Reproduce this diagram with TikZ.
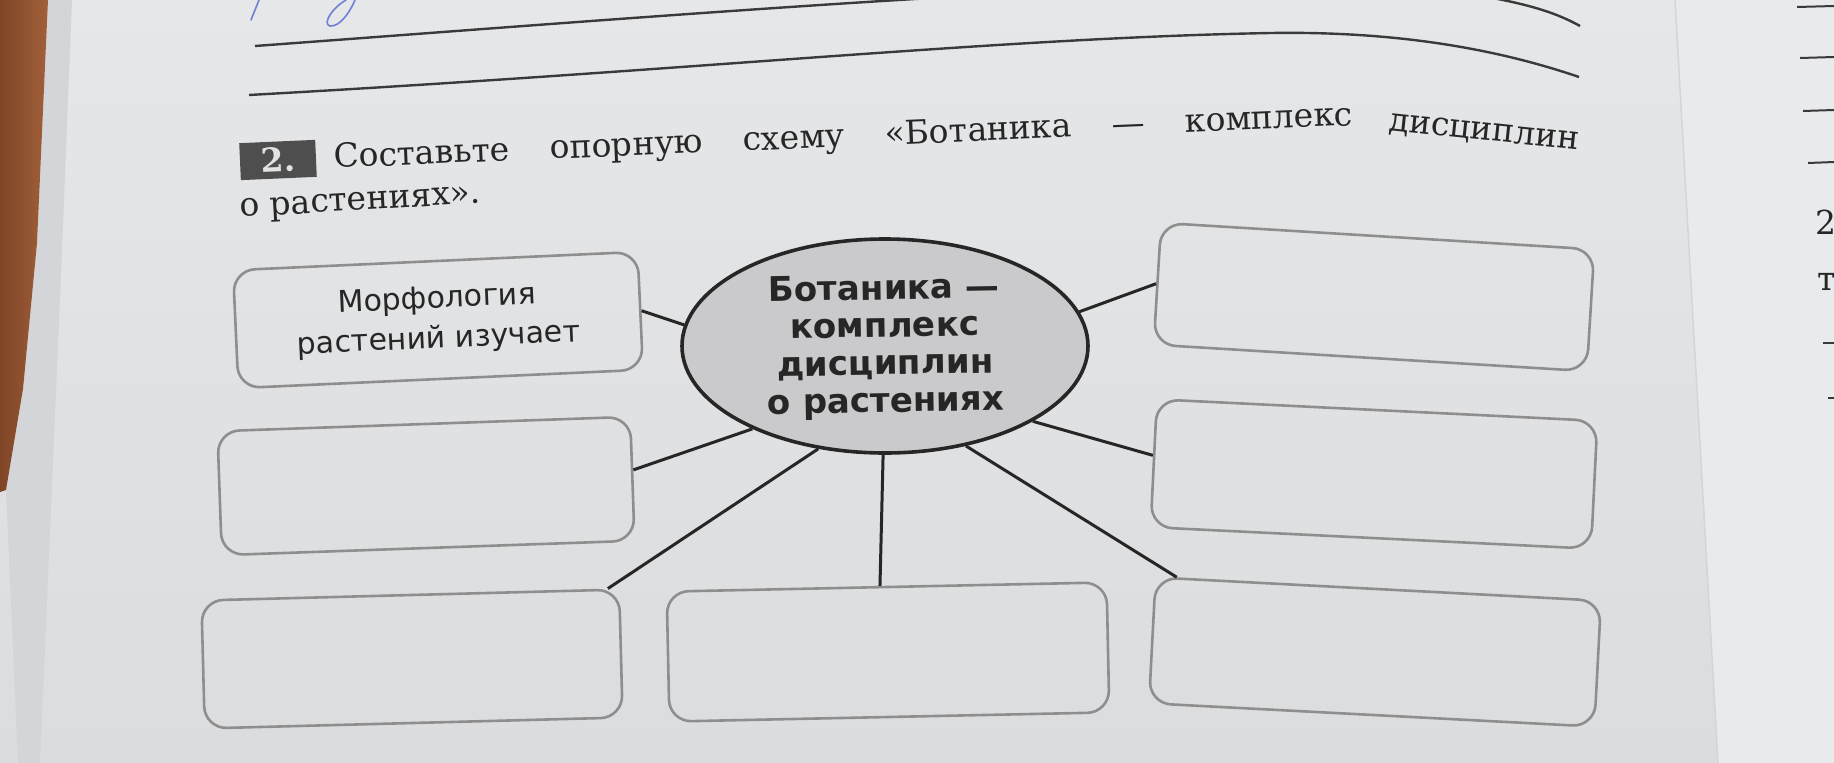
\documentclass[tikz,border=0pt]{standalone}
\usepackage{fontspec}
\setmainfont{DejaVu Serif}
\newfontfamily\serifw{DejaVu Serif}
\newfontfamily\sansw{DejaVu Sans}
\usetikzlibrary{shapes.geometric,calc}
\definecolor{pagetop}{HTML}{E6E7E9}
\definecolor{pagebot}{HTML}{DBDCDE}
\definecolor{pageright}{HTML}{E9EAEC}
\definecolor{tablec}{HTML}{A2603A}
\definecolor{tabled}{HTML}{7E4526}
\definecolor{edgec}{HTML}{D3D5D8}
\definecolor{inkc}{HTML}{262626}
\definecolor{rulec}{HTML}{3A3A3A}
\definecolor{boxc}{HTML}{8E8E8E}
\definecolor{ellfill}{HTML}{CACACC}
\definecolor{badgec}{HTML}{4E4E4E}
\definecolor{badgetx}{HTML}{E2E2E2}
\definecolor{penc}{HTML}{6F80D6}
\newcommand\hdfont{\serifw\fontsize{33}{38}\selectfont}
\newcommand\bxfont{\sansw\fontsize{30}{40}\selectfont}
\newcommand\elfont{\sansw\bfseries\fontsize{34}{37.5}\selectfont}
\newcommand\bdfont{\serifw\bfseries\fontsize{33}{36}\selectfont}
\begin{document}
\begin{tikzpicture}[x=1pt,y=-1pt,
  bx/.style={draw=boxc, line width=2.6pt, rounded corners=22pt, inner sep=0pt, font=\bxfont, align=center, text=inkc},
  conn/.style={draw=inkc, line width=3pt},
  rule/.style={draw=rulec, line width=2.4pt},
  head/.style={anchor=base west, font=\hdfont, text=inkc, inner sep=0pt}]
\useasboundingbox (0,0) rectangle (1834,763);
\clip (0,0) rectangle (1834,763);
% page and surroundings
\shade[top color=pagetop, bottom color=pagebot] (0,0) rectangle (1834,763);
\fill[pageright] (1675,0) -- (1834,0) -- (1834,763) -- (1718,763) -- cycle;
\draw[edgec, line width=1.5pt] (1675,0) -- (1718,763);
\fill[edgec] (48,0) -- (72,0) -- (60,300) -- (40,763) -- (18,763) -- (6,490) -- (23,389) -- (37,243) -- cycle;
\shade[left color=tabled, right color=tablec] (0,0) -- (48,0) -- (37,243) -- (23,389) -- (6,490) -- (0,492) -- cycle;
% handwriting
\draw[penc, line width=1.6pt, line cap=round] (251,20) -- (259,0);
\draw[penc, line width=1.6pt, line cap=round] (346,0) .. controls (332,8) and (322,24) .. (330,26) .. controls (340,27) and (350,12) .. (355,0);
% writing lines
\draw[rule] (255,46) .. controls (500,28) and (750,8) .. (1000,-6);
\draw[rule] (1470,-6) .. controls (1525,3) and (1555,12) .. (1580,26);
\draw[rule] (249,95) .. controls (700,70) and (1000,38) .. (1271,33) .. controls (1400,31) and (1500,50) .. (1579,77);
% next page fragments
\draw[rule, line width=2pt] (1797,7) -- (1834,6);
\draw[rule, line width=2pt] (1800,58) -- (1834,57);
\draw[rule, line width=2pt] (1803,111) -- (1834,110);
\draw[rule, line width=2pt] (1808,163) -- (1834,162);
\draw[rule, line width=2pt] (1823,343) -- (1834,343);
\draw[rule, line width=2pt] (1828,398) -- (1834,398);
\node[head] (p2) at (1815,234) {2};
\node[head] (pt) at (1817,290) {т};
% task heading
\node[fill=badgec, text=badgetx, font=\bdfont, minimum width=76pt, minimum height=37pt, inner sep=0pt, rotate=2.5] (bd) at (278,160) {2.};
\node[head, rotate=2.4] (h1) at (334,168) {\makebox[1020pt][s]{Составьте опорную схему «Ботаника — комплекс}};
\node[head, rotate=-6] (h2) at (1388,130) {дисциплин};
\node[head, rotate=3.3] (h3) at (240,217) {о растениях».};
% boxes
\node[bx, minimum width=405pt, minimum height=118pt, rotate=2.6] (b1) at (438,320) {Морфология\\растений изучает};
\node[bx, minimum width=413pt, minimum height=124pt, rotate=2] (b2) at (426,486) {};
\node[bx, minimum width=418pt, minimum height=128pt, rotate=1.5] (b3) at (412,659) {};
\node[bx, minimum width=440pt, minimum height=130pt, rotate=1.2] (b4) at (888,652) {};
\node[bx, minimum width=446pt, minimum height=126pt, rotate=-3] (b5) at (1375,652) {};
\node[bx, minimum width=441pt, minimum height=128pt, rotate=-2.8] (b6) at (1374,474) {};
\node[bx, minimum width=434pt, minimum height=122pt, rotate=-3.5] (b7) at (1374,297) {};
% centre
\node[ellipse, draw=inkc, line width=3.6pt, fill=ellfill, minimum width=406pt, minimum height=214pt, inner sep=0pt] (e) at (885,346) {};
\node[font=\elfont, align=center, text=inkc, rotate=1] (et) at (885,347) {Ботаника —\\комплекс\\дисциплин\\о растениях};
% connectors
\draw[conn] (e.174) -- (b1.east);
\draw[conn] (e.10) -- (b7.west);
\draw[conn] (e.212) -- ($(b2.north east)!0.43!(b2.south east)$);
\draw[conn] (e.333) -- ($(b6.north west)!0.44!(b6.south west)$);
\draw[conn] (e.237) -- ($(b3.north east)!0.03!(b3.north west)$);
\draw[conn] (e.269) -- ($(b4.north west)!0.485!(b4.north east)$);
\draw[conn] (e.309) -- ($(b5.north west)!0.05!(b5.north east)$);
\end{tikzpicture}
\end{document}
